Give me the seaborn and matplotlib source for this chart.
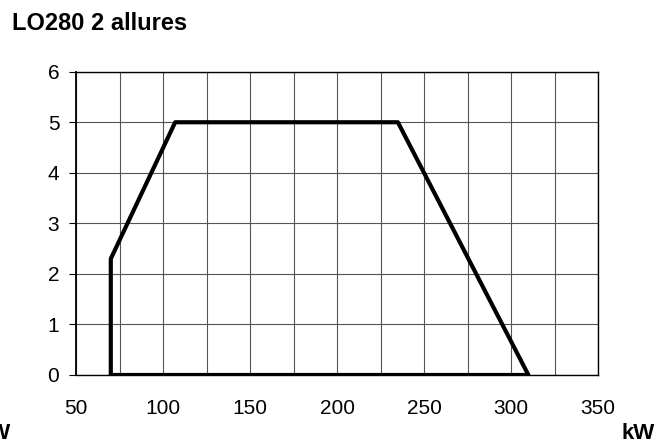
import pandas as pd
import matplotlib
matplotlib.use('Agg')
import matplotlib.pyplot as plt
import seaborn as sns

# working range outline (kW vs allure)
puissance_kw = [70, 70, 107, 235, 310, 70]
pression = [0, 2.3, 5, 5, 0, 0]

x_ticks = [50, 100, 150, 200, 250, 300, 350]
x_minor = [75, 125, 175, 225, 275, 325]
y_ticks = [0, 1, 2, 3, 4, 5, 6]

df = pd.DataFrame({'kW': puissance_kw, 'p': pression})

sns.set_style('white')
plt.rcParams['font.family'] = ['Liberation Sans', 'DejaVu Sans']
plt.rcParams['text.color'] = 'black'
plt.rcParams['xtick.color'] = 'black'
plt.rcParams['ytick.color'] = 'black'

fig = plt.figure(figsize=(6.58, 4.46), dpi=100)
ax = fig.add_axes([76/658, 71/446, 522/658, 303.3/446])

sns.lineplot(x='kW', y='p', data=df, sort=False, estimator=None,
             color='black', linewidth=3, ax=ax, zorder=3)

ax.set_xlim(50, 350)
ax.set_ylim(0, 6)
ax.set_xticks(x_ticks)
ax.set_xticks(x_minor, minor=True)
ax.set_yticks(y_ticks)
ax.grid(True, which='both', color='#555555', linewidth=0.8)
ax.tick_params(axis='x', which='both', length=0, pad=17, labelsize=15)
ax.tick_params(axis='y', length=5, width=0.8, direction='out',
               pad=7, labelsize=15, left=True)
for s in ax.spines.values():
    s.set_color('black')
    s.set_linewidth(1.0)
ax.spines['left'].set_linewidth(1.3)
ax.set_xlabel('')
ax.set_ylabel('')

fig.text(12/658, 1 - 30/446, 'LO280 2 allures', fontsize=17, fontweight='bold',
         ha='left', va='baseline')
fig.text(655/658, 1 - 439/446, 'kW', fontsize=16, fontweight='bold',
         ha='right', va='baseline')
fig.text(11/658, 1 - 439/446, 'kW', fontsize=16, fontweight='bold',
         ha='right', va='baseline')

plt.savefig('out.png', dpi=100)
